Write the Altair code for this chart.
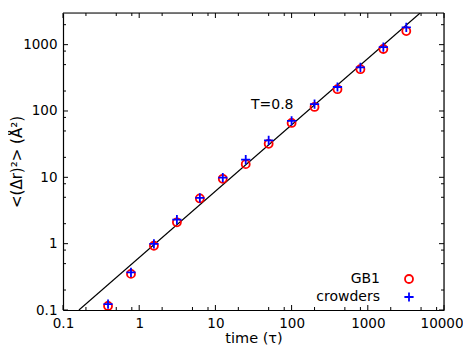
import altair as alt
import pandas as pd

# data
time_vals = [0.39, 0.78, 1.56, 3.125, 6.25, 12.5, 25, 50, 100, 200, 400, 800, 1600, 3200]
gb1_vals = [0.115, 0.35, 0.93, 2.1, 4.8, 9.5, 15.8, 32, 66, 115, 213, 427, 860, 1600]
crowder_vals = [0.123, 0.37, 0.99, 2.3, 4.9, 9.9, 18.5, 36, 71, 127, 230, 455, 920, 1820]
fit_x = [0.162, 4860]
fit_y = [0.1, 3000]
x_major = [0.1, 1, 10, 100, 1000, 10000]
y_major = [0.1, 1, 10, 100, 1000]
x_minor = [0.2, 0.5, 0.8, 2, 5, 8, 20, 50, 80, 200, 500, 800, 2000, 5000, 8000]
y_minor = [0.2, 0.5, 0.8, 2, 5, 8, 20, 50, 80, 200, 500, 800, 2000]
annot_text = "T=0.8"
annot_x = [29.3]
annot_y = [122]
legend_labels = ["GB1", "crowders"]

W, H = 381, 297
FONT = "DejaVu Sans"
XDOM = [0.1, 10000]
YDOM = [0.1, 3000]

xs = alt.Scale(type="log", domain=XDOM, nice=False)
ys = alt.Scale(type="log", domain=YDOM, nice=False)

pts = pd.DataFrame({"t": time_vals, "gb1": gb1_vals, "cr": crowder_vals})
fit = pd.DataFrame({"x": fit_x, "y": fit_y})

base_axes = alt.Chart(pd.DataFrame({"x": [1], "y": [1]})).mark_point(opacity=0).encode(
    x=alt.X("x:Q", scale=xs, title="time (τ)",
            axis=alt.Axis(values=x_major, format="~g", grid=False, ticks=False,
                          labelFont=FONT, labelFontSize=13.5, labelColor="black",
                          labelPadding=6, labelFlush=False,
                          labelAlign={"condition": {"test": "datum.value >= 10000", "value": "right"},
                                      "value": "center"},
                          labelOffset={"condition": {"test": "datum.value >= 10000", "value": 19},
                                       "value": 0},
                          titleFont=FONT, titleFontSize=14.5, titleFontWeight="normal",
                          titleColor="black", titleY=32, titleBaseline="alphabetic",
                          domainColor="black", domainWidth=1.2)),
    y=alt.Y("y:Q", scale=ys, title="<(Δr)²> (Å²)",
            axis=alt.Axis(values=y_major, format="~g", grid=False, ticks=False,
                          labelFont=FONT, labelFontSize=13.5, labelColor="black",
                          labelPadding=6, labelFlush=False,
                          titleFont=FONT, titleFontSize=15, titleFontWeight="normal",
                          titleColor="black", titleX=-47, titleY=H / 2,
                          titleBaseline="middle",
                          domainColor="black", domainWidth=1.2)),
)

def xticks(vals, length):
    df = pd.DataFrame({"v": vals})
    b = alt.Chart(df).mark_rule(color="black", strokeWidth=1)
    bottom = b.encode(x=alt.X("v:Q", scale=xs), y=alt.value(H), y2=alt.value(H - length))
    top = b.encode(x=alt.X("v:Q", scale=xs), y=alt.value(0), y2=alt.value(length))
    return [bottom, top]

def yticks(vals, length):
    df = pd.DataFrame({"v": vals})
    b = alt.Chart(df).mark_rule(color="black", strokeWidth=1)
    left = b.encode(y=alt.Y("v:Q", scale=ys), x=alt.value(0), x2=alt.value(length))
    right = b.encode(y=alt.Y("v:Q", scale=ys), x=alt.value(W), x2=alt.value(W - length))
    return [left, right]

ticks = xticks(x_major, 5) + xticks(x_minor, 3) + yticks(y_major, 5) + yticks(y_minor, 3)

right_border = alt.Chart(pd.DataFrame({"a": [0]})).mark_rule(color="black", strokeWidth=1.2).encode(
    x=alt.value(W), y=alt.value(0), y2=alt.value(H))
top_border = alt.Chart(pd.DataFrame({"a": [0]})).mark_rule(color="black", strokeWidth=1.2).encode(
    x=alt.value(0), x2=alt.value(W), y=alt.value(0))

line = alt.Chart(fit).mark_line(color="black", strokeWidth=1.2, clip=True).encode(
    x=alt.X("x:Q", scale=xs), y=alt.Y("y:Q", scale=ys))

circ = alt.Chart(pts).mark_point(shape="circle", filled=False, color="red",
                                 size=64, strokeWidth=1.8, opacity=1, clip=True).encode(
    x=alt.X("t:Q", scale=xs), y=alt.Y("gb1:Q", scale=ys))

PLUS = "M-1,0L1,0M0,-1L0,1"
plus = alt.Chart(pts).mark_point(shape=PLUS, filled=False, color="blue",
                                 size=85, strokeWidth=1.8, opacity=1, clip=True).encode(
    x=alt.X("t:Q", scale=xs), y=alt.Y("cr:Q", scale=ys))

annot = alt.Chart(pd.DataFrame({"x": annot_x, "y": annot_y, "t": [annot_text]})).mark_text(
    font=FONT, fontSize=14, align="left", baseline="middle", color="black").encode(
    x=alt.X("x:Q", scale=xs), y=alt.Y("y:Q", scale=ys), text="t:N")

leg_text_gb1 = alt.Chart(pd.DataFrame({"l": [legend_labels[0]]})).mark_text(
    font=FONT, fontSize=14, align="right", baseline="middle", color="black").encode(
    text="l:N", x=alt.value(317), y=alt.value(266))
leg_text_cr = alt.Chart(pd.DataFrame({"l": [legend_labels[1]]})).mark_text(
    font=FONT, fontSize=14, align="right", baseline="middle", color="black").encode(
    text="l:N", x=alt.value(317), y=alt.value(284))
leg_circ = alt.Chart(pd.DataFrame({"a": [0]})).mark_point(
    shape="circle", filled=False, color="red", size=64, strokeWidth=1.8, opacity=1).encode(
    x=alt.value(346), y=alt.value(266))
leg_plus = alt.Chart(pd.DataFrame({"a": [0]})).mark_point(
    shape=PLUS, filled=False, color="blue", size=85, strokeWidth=1.8, opacity=1).encode(
    x=alt.value(346), y=alt.value(284))

chart = alt.layer(
    base_axes, line, circ, plus, annot, *ticks, right_border, top_border,
    leg_text_gb1, leg_text_cr, leg_circ, leg_plus
).properties(
    width=W, height=H,
    autosize=alt.AutoSizeParams(type="none"),
    padding={"left": 55, "top": 5, "right": 19, "bottom": 35},
).configure_view(stroke=None).configure(background="white")

chart.save("out.html", embed_options={"renderer": "svg", "actions": False})
